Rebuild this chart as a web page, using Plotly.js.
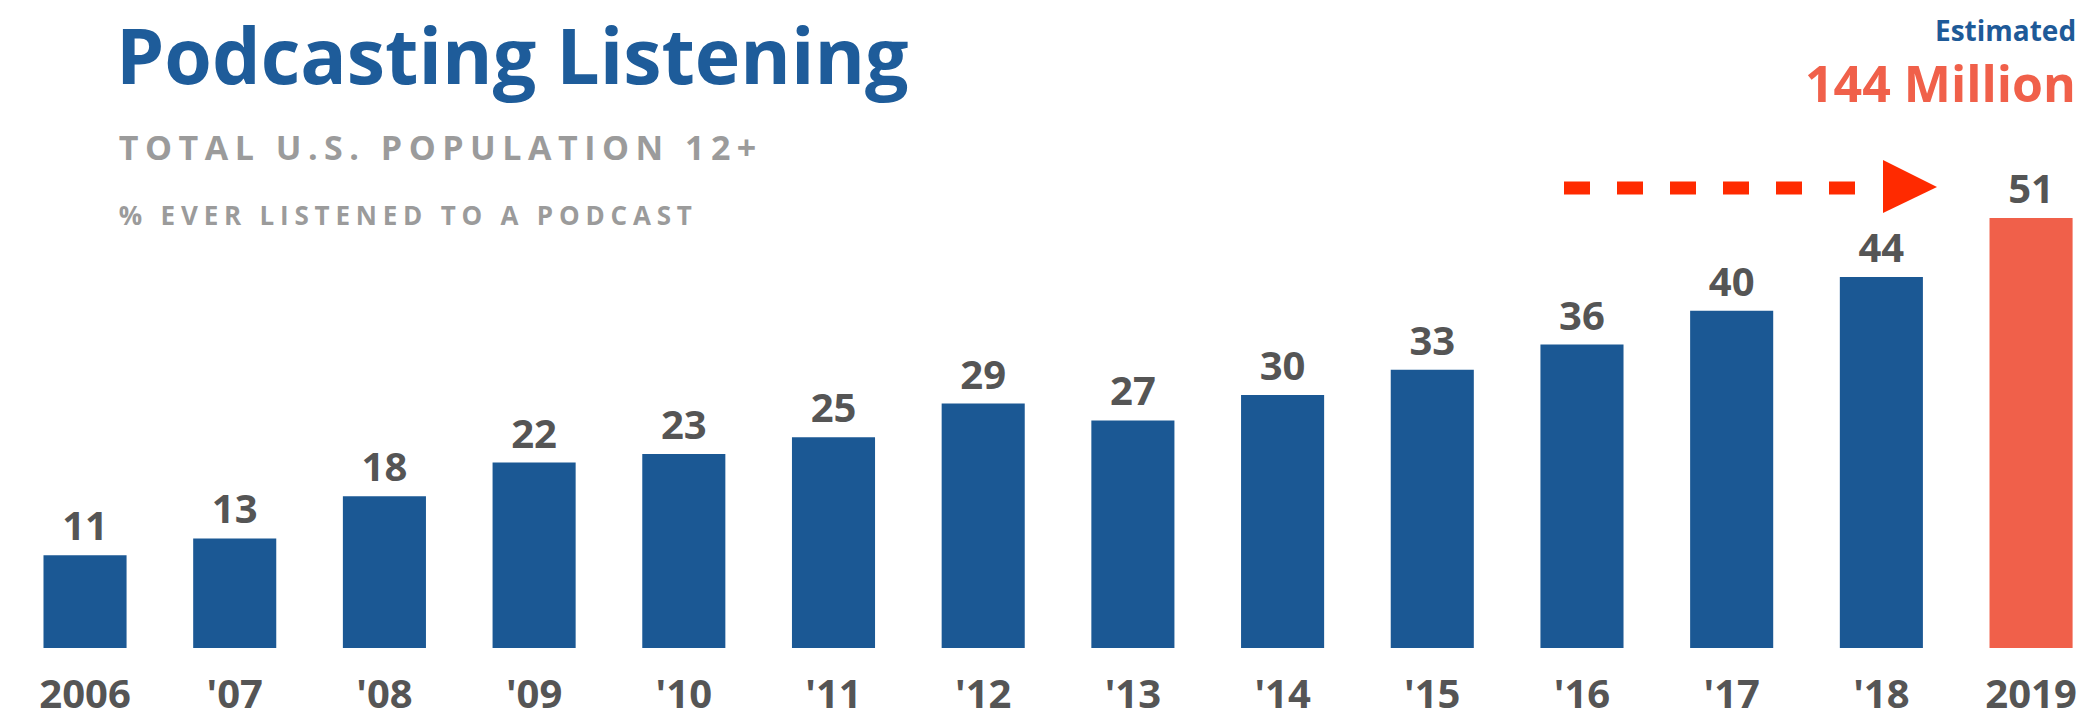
<!DOCTYPE html>
<html>
<head>
<meta charset="utf-8">
<script src="https://cdn.plot.ly/plotly-3.0.1.min.js"></script>
<style>
  html, body { margin: 0; padding: 0; background: #fff; }
  #chart { width: 2086px; height: 721px; }
  .annotation[data-index="1"] .annotation-text { letter-spacing: 6.5px; }
  .annotation[data-index="2"] .annotation-text { letter-spacing: 5.8px; }
</style>
</head>
<body>
<div id="chart"></div>
<script>
// ---- data ----
const years = ["2006", "'07", "'08", "'09", "'10", "'11", "'12", "'13", "'14", "'15", "'16", "'17", "'18", "2019"];
const pctEverListened = [11, 13, 18, 22, 23, 25, 29, 27, 30, 33, 36, 40, 44, 51];
const estimatedYear = "2019";

const titleText = "Podcasting Listening";
const subtitle1 = "TOTAL U.S. POPULATION 12+";
const subtitle2 = "% EVER LISTENED TO A PODCAST";
const estLabel = "Estimated";
const estValue = "144 Million";

// ---- style ----
const BLUE = "#1b5894";
const CORAL = "#f0604a";
const GRAY_TXT = "#555555";
const FONT = "Open Sans";

const barColors = years.map(y => y === estimatedYear ? CORAL : BLUE);

const W = 2086, H = 721;
const mT = 100, mB = 73;
const plotH = H - mT - mB;
const pxToPaperY = py => (H - mB - py) / plotH;

const trace = {
  type: "bar",
  x: years,
  y: pctEverListened,
  text: pctEverListened.map(String),
  textposition: "outside",
  cliponaxis: false,
  textfont: { family: FONT, size: 40, color: GRAY_TXT, weight: 700 },
  marker: { color: barColors, line: { width: 0 } },
  hoverinfo: "skip"
};

const layout = {
  width: W, height: H,
  margin: { l: 0, r: 0, t: mT, b: mB, pad: 0 },
  paper_bgcolor: "#ffffff",
  plot_bgcolor: "#ffffff",
  showlegend: false,
  bargap: 0.445,
  xaxis: {
    type: "category",
    range: [-0.568, 13.367],
    showgrid: false, zeroline: false, showline: false,
    ticks: "", ticklabelstandoff: 19,
    tickfont: { family: FONT, size: 40, color: GRAY_TXT, weight: 700 },
    fixedrange: true
  },
  yaxis: {
    range: [0, plotH / 8.43],
    showgrid: false, zeroline: false, showline: false,
    showticklabels: false, ticks: "",
    fixedrange: true
  },
  annotations: [
    { text: titleText, xref: "paper", yref: "paper", x: 114 / W, y: pxToPaperY(55),
      xanchor: "left", yanchor: "middle", showarrow: false,
      font: { family: FONT, size: 77, color: "#1e5c9a", weight: 700 } },
    { text: subtitle1, xref: "paper", yref: "paper", x: (118 + 80) / W, y: pxToPaperY(147),
      xanchor: "left", yanchor: "middle", showarrow: false,
      font: { family: FONT, size: 34, color: "#9b9b9b", weight: 700 } },
    { text: subtitle2, xref: "paper", yref: "paper", x: (118 + 80) / W, y: pxToPaperY(215),
      xanchor: "left", yanchor: "middle", showarrow: false,
      font: { family: FONT, size: 26, color: "#9b9b9b", weight: 700 } },
    { text: estLabel, xref: "paper", yref: "paper", x: 2078 / W, y: pxToPaperY(30),
      xanchor: "right", yanchor: "middle", showarrow: false,
      font: { family: FONT, size: 28, color: "#1e5a98", weight: 700 } },
    { text: estValue, xref: "paper", yref: "paper", x: 2078 / W, y: pxToPaperY(83),
      xanchor: "right", yanchor: "middle", showarrow: false,
      font: { family: FONT, size: 50, color: CORAL, weight: 700 } }
  ],
  shapes: [
    { type: "line", xref: "paper", yref: "paper",
      x0: 1564 / W, x1: 1857 / W, y0: pxToPaperY(188), y1: pxToPaperY(188),
      line: { color: "#ff2a00", width: 13, dash: "26px,27px" } },
    { type: "path", xref: "paper", yref: "paper",
      path: `M ${1883 / W} ${pxToPaperY(160)} L ${1937 / W} ${pxToPaperY(187)} L ${1883 / W} ${pxToPaperY(213)} Z`,
      fillcolor: "#ff2a00", line: { width: 0 } }
  ]
};

Plotly.newPlot("chart", [trace], layout, { displayModeBar: false, staticPlot: true });
</script>
</body>
</html>
